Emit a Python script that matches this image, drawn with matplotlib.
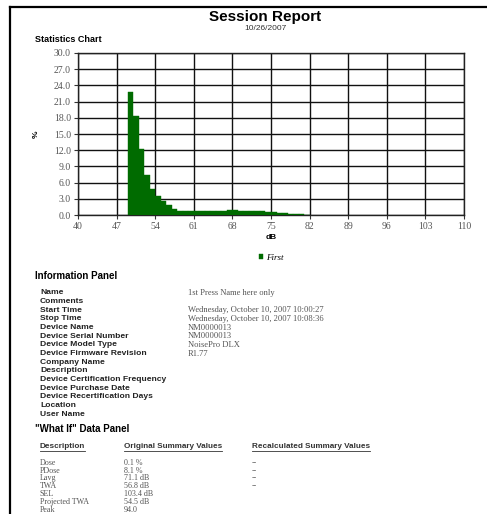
import matplotlib
matplotlib.use("Agg")
import matplotlib.pyplot as plt
from matplotlib.lines import Line2D

# histogram data (percent of time per 1 dB bin)
db_bins = list(range(49, 82))
pct = [22.7, 18.4, 12.2, 7.4, 4.8, 3.6, 2.6, 1.8, 1.1, 0.8, 0.8, 0.8, 0.7,
       0.7, 0.7, 0.8, 0.8, 0.8, 0.9, 0.9, 0.8, 0.8, 0.8, 0.7, 0.7, 0.6,
       0.5, 0.4, 0.3, 0.2, 0.15, 0.1, 0.05]
x_ticks = [40, 47, 54, 61, 68, 75, 82, 89, 96, 103, 110]
y_ticks = [0, 3, 6, 9, 12, 15, 18, 21, 24, 27, 30]

info_names = ["Name", "Comments", "Start Time", "Stop Time", "Device Name",
              "Device Serial Number", "Device Model Type",
              "Device Firmware Revision", "Company Name", "Description",
              "Device Certification Frequency", "Device Purchase Date",
              "Device Recertification Days", "Location", "User Name"]
info_values = ["1st Press Name here only", "",
               "Wednesday, October 10, 2007 10:00:27",
               "Wednesday, October 10, 2007 10:08:36",
               "NM0000013", "NM0000013", "NoisePro DLX", "R1.77",
               "", "", "", "", "", "", ""]

whatif_desc = ["Dose", "PDose", "Lavg", "TWA", "SEL", "Projected TWA", "Peak"]
whatif_orig = ["0.1 %", "8.1 %", "71.1 dB", "56.8 dB", "103.4 dB", "54.5 dB", "94.0"]
whatif_recalc = ["--", "--", "--", "--", "", "", ""]

W, H = 487, 514
fig = plt.figure(figsize=(W / 100, H / 100), dpi=100)
fig.patch.set_facecolor("white")


def fx(px):
    return px / W


def fy(py):
    return 1 - py / H


serif = "Liberation Serif"
sans = "Liberation Sans"

# page border
fig.add_artist(Line2D([fx(10), 1], [fy(7), fy(7)], color="black", lw=1.6))
fig.add_artist(Line2D([fx(10), fx(10)], [fy(7), 0], color="black", lw=1.6))

fig.text(fx(265), fy(17), "Session Report", ha="center", va="center",
         family=sans, weight="bold", fontsize=11)
fig.text(fx(265), fy(29), "10/26/2007", ha="center", va="center",
         family=sans, fontsize=6, color="#333333")
fig.text(fx(35), fy(40), "Statistics Chart", ha="left", va="center",
         family=sans, weight="bold", fontsize=6.5)

# chart
ax = fig.add_axes([fx(78), fy(215), fx(464) - fx(78), fy(53) - fy(215)])
ax.bar(db_bins, pct, width=1.0, align="edge", color="#006b00",
       edgecolor="#006b00", linewidth=0.3, label="First", zorder=3)
ax.set_xlim(40, 110)
ax.set_ylim(0, 30)
ax.set_xticks(x_ticks)
ax.set_yticks(y_ticks)
ax.set_yticklabels(["%.1f" % v for v in y_ticks])
ax.grid(True, color="#111111", linewidth=1.0, zorder=0)
ax.set_axisbelow(True)
for s in ax.spines.values():
    s.set_color("#222222")
    s.set_linewidth(1.0)
ax.tick_params(labelsize=7, length=3, width=0.8, colors="#333333", pad=2)
for lab in ax.get_xticklabels() + ax.get_yticklabels():
    lab.set_family(serif)
    lab.set_color("#555555")
ax.set_xlabel("dB", family=sans, weight="bold", fontsize=6, labelpad=2)
ax.set_ylabel("%", family=sans, weight="bold", fontsize=6, labelpad=10)
ax.legend(loc="upper center", bbox_to_anchor=(0.5, -0.19), frameon=False,
          handlelength=0.5, handleheight=0.5, handletextpad=0.3,
          prop={"family": serif, "style": "italic", "size": 6.5})

# information panel
fig.text(fx(35), fy(276), "Information Panel", ha="left", va="center",
         family=sans, weight="bold", fontsize=7)
for i, (name, val) in enumerate(zip(info_names, info_values)):
    y = 293 + i * 8.65
    fig.text(fx(40), fy(y), name, ha="left", va="center", family=sans,
             weight="bold", fontsize=6.1, color="#222222")
    if val:
        fig.text(fx(188), fy(y), val, ha="left", va="center", family=serif,
                 fontsize=6.1, color="#555555")

# what-if panel
fig.text(fx(35), fy(429), "\"What If\" Data Panel", ha="left", va="center",
         family=sans, weight="bold", fontsize=7)
headers = ["Description", "Original Summary Values", "Recalculated Summary Values"]
hx = [40, 124, 252]
for h, x in zip(headers, hx):
    t = fig.text(fx(x), fy(447), h, ha="left", va="center", family=sans,
                 weight="bold", fontsize=5.9, color="#333333")
    fig.canvas.draw()
    bb = t.get_window_extent()
    fig.add_artist(Line2D([bb.x0 / W, bb.x1 / W], [fy(451), fy(451)],
                          color="#333333", lw=0.6))
for i in range(len(whatif_desc)):
    y = 463 + i * 7.75
    fig.text(fx(40), fy(y), whatif_desc[i], ha="left", va="center",
             family=serif, fontsize=5.8, color="#555555")
    fig.text(fx(124), fy(y), whatif_orig[i], ha="left", va="center",
             family=serif, fontsize=5.8, color="#555555")
    if whatif_recalc[i]:
        fig.text(fx(252), fy(y), whatif_recalc[i], ha="left", va="center",
                 family=serif, fontsize=5.8, color="#555555")

fig.savefig("out.png", dpi=100)
